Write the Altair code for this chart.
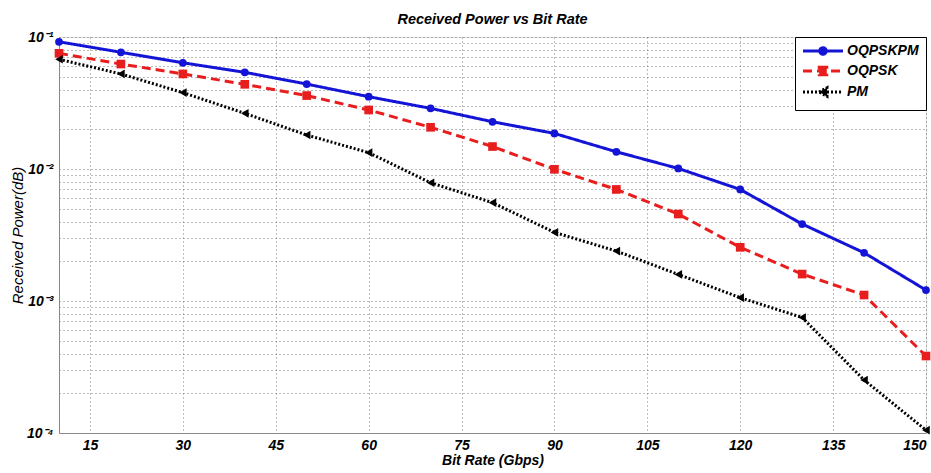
import altair as alt
import pandas as pd

bit_rate = [10, 20, 30, 40, 50, 60, 70, 80, 90, 100, 110, 120, 130, 140, 150]
oqpskpm = [0.092, 0.0766, 0.0638, 0.054, 0.044, 0.0353, 0.0288, 0.0228, 0.0186,
           0.0135, 0.0101, 0.0070, 0.00383, 0.00232, 0.00121]
oqpsk = [0.0752, 0.0624, 0.0525, 0.0438, 0.0360, 0.028, 0.0207, 0.0148, 0.00995,
         0.0070, 0.00456, 0.00255, 0.0016, 0.00111, 0.000383]
pm = [0.0678, 0.0525, 0.0379, 0.0264, 0.0181, 0.0133, 0.00787, 0.00556, 0.00331,
      0.00239, 0.00159, 0.00106, 0.00075, 0.000252, 0.000105]

series_names = ["OQPSKPM", "OQPSK", "PM"]
series_colors = ["#1414d6", "#e81e1e", "#000000"]
series_dash = [[1, 0], [9, 5], [2, 2]]
series_shapes = ["circle", "square", "triangle-left"]
series_sizes = [60, 75, 75]

x_ticks = [15, 30, 45, 60, 75, 90, 105, 120, 135, 150]
y_grid = [k * 10.0 ** e for e in (-4, -3, -2) for k in range(1, 10)] + [0.1]

rows = []
for name, vals in zip(series_names, [oqpskpm, oqpsk, pm]):
    for x, v in zip(bit_rate, vals):
        rows.append({"rate": x, "power": v, "series": name})
df = pd.DataFrame(rows)

FONT = "Liberation Sans"

ex = "round(log(datum.value)/LN10)"
is_dec = "abs(log(datum.value)/LN10 - round(log(datum.value)/LN10)) < 0.001"
label_expr = (f"{is_dec} ? ({ex} == -1 ? '10⁻¹' : {ex} == -2 ? '10⁻²' : "
              f"{ex} == -3 ? '10⁻³' : '10⁻⁴') : ''")

# legend symbols: short line sample with the marker in its middle
line_seg = "M-1.2,0H6.8"
p_circle = line_seg + "M3.45,0A0.65,0.65 0 1,1 2.15,0A0.65,0.65 0 1,1 3.45,0Z"
p_square = line_seg + "M2.05,-0.75H3.55V0.75H2.05Z"
p_tri = line_seg + "M2.0,0L3.6,-0.85L3.6,0.85Z"
legend_shapes = [p_circle, p_square, p_tri]

x_enc = alt.X("rate:Q",
              scale=alt.Scale(domain=[10, 150], nice=False, zero=False),
              axis=alt.Axis(values=x_ticks, title="Bit Rate (Gbps)", grid=True,
                            gridDash=[1, 3], gridColor="#777", ticks=False,
                            tickSize=0, labelPadding=5, titlePadding=1,
                            labelFont=FONT, labelFontStyle="italic",
                            labelFontWeight="bold", labelFontSize=14,
                            labelColor="#000", titleFont=FONT,
                            titleFontStyle="italic", titleFontWeight="bold",
                            titleFontSize=14, titleColor="#000"))
y_enc = alt.Y("power:Q",
              scale=alt.Scale(type="log", domain=[1e-4, 1e-1], nice=False),
              axis=alt.Axis(values=y_grid, labelExpr=label_expr,
                            title="Received Power(dB)", grid=True,
                            gridDash=[1, 3], gridColor="#777", ticks=False,
                            tickSize=0, labelPadding=6, titlePadding=1,
                            labelFont=FONT, labelFontStyle="italic",
                            labelFontWeight="bold", labelFontSize=14,
                            labelColor="#000", titleFont=FONT,
                            titleFontStyle="italic", titleFontWeight="normal",
                            titleFontSize=15, titleColor="#000"))

color_scale = alt.Scale(domain=series_names, range=series_colors)
dash_scale = alt.Scale(domain=series_names, range=series_dash)

legend = alt.Legend(
    title=None, orient="top-right", offset=0, padding=7,
    strokeColor="#000", fillColor="white",
    labelFont=FONT, labelFontStyle="italic", labelFontWeight="bold",
    labelFontSize=14, labelColor="#000", labelOffset=31,
    symbolSize=100, symbolStrokeWidth=3, symbolOpacity=1, rowPadding=0,
)

legend_layer = alt.Chart(df).mark_point(
    filled=True, strokeWidth=3, opacity=0
).encode(
    x=x_enc, y=y_enc,
    color=alt.Color("series:N", scale=color_scale, legend=legend),
    strokeDash=alt.StrokeDash("series:N", scale=dash_scale, legend=legend),
    shape=alt.Shape("series:N",
                    scale=alt.Scale(domain=series_names, range=legend_shapes),
                    legend=legend),
)

lines = alt.Chart(df).mark_line(strokeWidth=3).encode(
    x=x_enc, y=y_enc,
    color=alt.Color("series:N", scale=color_scale),
    strokeDash=alt.StrokeDash("series:N", scale=dash_scale),
)

point_layers = []
for name, shp, sz in zip(series_names, series_shapes, series_sizes):
    point_layers.append(
        alt.Chart(df).transform_filter(alt.datum.series == name)
        .mark_point(filled=True, size=sz, opacity=1, shape=shp)
        .encode(x=x_enc, y=y_enc,
                color=alt.Color("series:N", scale=color_scale))
    )

chart = alt.layer(legend_layer, lines, *point_layers).properties(
    width=867, height=396,
    title=alt.Title("Received Power vs Bit Rate", font=FONT, fontSize=14.5,
                    fontStyle="italic", fontWeight="bold", offset=3,
                    color="#000"),
    autosize=alt.AutoSizeParams(type="none"),
    padding={"left": 59, "top": 37, "right": 5, "bottom": 40},
).configure_axis(
    domainColor="#444",
).configure_view(stroke="#444", strokeWidth=1.2).configure(background="white")

chart.save("out.html", embed_options={"renderer": "svg", "actions": False})
